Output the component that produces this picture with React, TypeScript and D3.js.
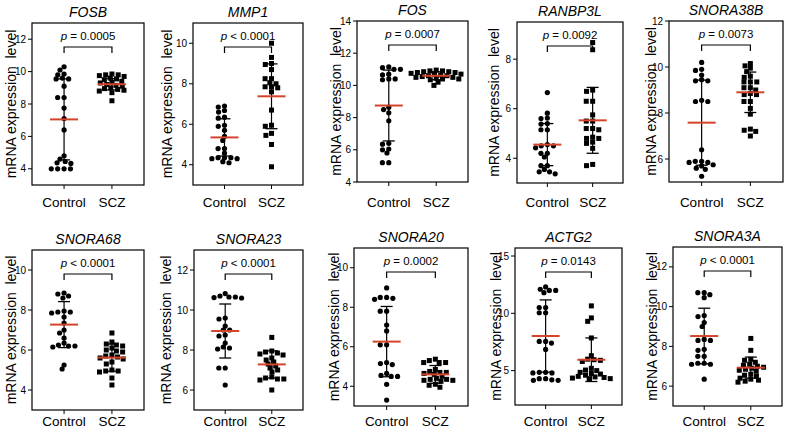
import React from "react";
import * as d3 from "d3";

const genes = ["FOSB", "MMP1", "FOS", "RANBP3L", "SNORA38B", "SNORA68", "SNORA23", "SNORA20", "ACTG2", "SNORA3A"];
const groups = ["Control", "SCZ"];
const pLabels = ["= 0.0005", "< 0.0001", "= 0.0007", "= 0.0092", "= 0.0073", "< 0.0001", "< 0.0001", "= 0.0002", "= 0.0143", "< 0.0001"];
const yDomains = [[3, 13], [3, 11], [4, 14], [3, 9.5], [5, 12], [3, 11], [5, 13], [3, 11], [2, 15.7], [5, 13]];
const yTicks = [[4, 6, 8, 10, 12], [4, 6, 8, 10], [4, 6, 8, 10, 12, 14], [4, 6, 8], [6, 8, 10, 12], [4, 6, 8, 10], [6, 8, 10, 12], [4, 6, 8, 10], [5, 10, 15], [6, 8, 10, 12]];

const controlValues = [
  [10.3, 10.1, 9.8, 9.85, 9.55, 9.6, 9.55, 9.1, 8.4, 8.4, 7.75, 7.1, 6.4, 4.6, 4.8, 4.45, 4.37, 4.33, 4.0, 4.0, 4.0, 4.0],
  [6.9, 6.85, 6.68, 6.6, 6.35, 6.3, 5.95, 5.9, 5.7, 5.4, 5.2, 4.8, 4.8, 4.57, 4.35, 4.3, 4.3, 4.35, 4.35, 4.15, 4.1],
  [11.1, 11.0, 11.0, 11.15, 10.7, 10.65, 10.4, 10.4, 10.35, 8.5, 8.3, 8.65, 7.8, 6.4, 6.35, 6.0, 5.8, 6.05, 5.2, 5.2],
  [6.65, 5.82, 5.62, 5.6, 5.38, 5.4, 5.15, 5.15, 4.55, 4.5, 4.42, 4.5, 4.2, 4.2, 4.05, 3.7, 3.7, 3.55, 3.45, 3.45, 3.37],
  [10.2, 9.9, 9.85, 9.65, 9.45, 9.4, 9.4, 8.5, 8.5, 8.55, 6.4, 5.9, 5.85, 5.9, 5.85, 5.75, 5.7, 5.6, 5.55, 5.25],
  [8.85, 8.8, 8.7, 8.6, 7.95, 7.9, 7.9, 7.85, 7.65, 7.35, 7.0, 6.85, 6.6, 6.35, 6.25, 6.2, 6.2, 6.15, 5.25, 5.05],
  [10.82, 10.7, 10.65, 10.65, 10.6, 10.62, 9.6, 9.55, 9.2, 9.0, 9.0, 8.75, 8.7, 8.35, 8.15, 8.1, 8.05, 7.1, 7.1, 6.25],
  [8.98, 8.5, 8.5, 8.45, 8.4, 7.8, 7.8, 7.1, 6.8, 6.1, 6.1, 5.2, 5.15, 5.1, 4.65, 4.55, 4.5, 4.5, 4.1, 3.3],
  [12.3, 12.0, 12.0, 11.8, 12.1, 10.5, 10.5, 10.05, 10.05, 7.55, 7.55, 7.4, 6.85, 4.85, 4.8, 4.8, 4.85, 4.3, 4.15, 4.15, 4.2, 4.3],
  [10.7, 10.7, 10.6, 10.45, 9.55, 9.5, 9.2, 9.0, 8.3, 8.35, 8.3, 7.85, 7.8, 7.5, 7.5, 7.15, 7.1, 7.1, 7.15, 6.35],
];

const sczValues = [
  [9.85, 9.8, 9.8, 9.75, 9.7, 9.6, 9.55, 9.5, 9.4, 9.35, 9.3, 9.2, 9.15, 9.1, 9.0, 8.95, 8.9, 8.85, 8.8, 8.7, 8.2],
  [10.0, 9.3, 9.0, 8.95, 8.7, 8.25, 8.25, 8.05, 8.0, 7.85, 7.85, 7.8, 7.6, 6.7, 5.95, 5.9, 5.55, 5.45, 5.0, 3.9],
  [10.95, 10.9, 10.9, 10.85, 10.85, 10.8, 10.8, 10.75, 10.7, 10.7, 10.65, 10.6, 10.6, 10.55, 10.5, 10.5, 10.45, 10.4, 10.4, 10.35, 10.2, 10.0],
  [8.67, 8.38, 6.75, 6.7, 6.3, 6.3, 5.75, 5.5, 5.5, 5.2, 5.2, 5.15, 4.85, 4.8, 4.8, 4.65, 4.6, 4.4, 3.75, 3.7],
  [10.15, 10.05, 9.95, 9.8, 9.6, 9.55, 9.35, 9.35, 9.35, 9.1, 9.1, 9.0, 8.8, 8.8, 8.85, 8.5, 8.5, 8.2, 7.95, 7.3, 7.25, 7.2, 7.0],
  [6.85, 6.4, 6.3, 6.25, 6.2, 6.1, 6.0, 5.95, 5.9, 5.75, 5.7, 5.65, 5.6, 5.55, 5.4, 5.3, 5.0, 4.95, 4.95, 4.9, 4.6, 4.25],
  [8.63, 7.95, 7.9, 7.85, 7.8, 7.75, 7.6, 7.5, 7.4, 7.3, 7.2, 7.1, 7.0, 6.9, 6.65, 6.6, 6.55, 6.55, 6.5, 6.0],
  [5.37, 5.3, 5.2, 5.2, 5.2, 4.85, 4.75, 4.7, 4.7, 4.65, 4.6, 4.5, 4.4, 4.35, 4.35, 4.3, 4.3, 4.25, 4.1, 4.05, 3.95],
  [10.65, 9.6, 9.3, 7.85, 6.3, 6.0, 5.95, 5.9, 5.8, 5.2, 5.05, 5.0, 4.85, 4.75, 4.7, 4.6, 4.5, 4.45, 4.4, 4.35, 4.3, 4.3],
  [8.4, 7.8, 7.35, 7.3, 7.2, 7.1, 7.05, 7.0, 6.95, 6.9, 6.85, 6.8, 6.75, 6.6, 6.55, 6.5, 6.4, 6.35, 6.3, 6.25, 6.2],
];

const controlMean = [7.05, 5.35, 8.75, 4.55, 7.58, 7.27, 8.95, 6.26, 8.02, 8.52];
const controlSD = [2.5, 0.92, 2.2, 0.85, 1.85, 1.15, 1.35, 1.78, 3.15, 1.4];
const sczMean = [9.22, 7.38, 10.6, 5.53, 8.9, 5.62, 7.28, 4.6, 5.95, 6.93];
const sczSD = [0.35, 1.6, 0.25, 1.33, 0.88, 0.68, 0.68, 0.45, 1.9, 0.53];

// layout (plot boxes): [x0, x1, y0, y1]
const boxes = [
  [32, 144, 23, 185], [193, 303, 23, 185], [357, 468, 21, 182], [517, 623, 22, 183], [669, 783, 21, 182],
  [32, 144, 250, 410], [194, 303, 250, 410], [354, 468, 248, 406], [515, 622, 248, 405], [673, 782, 247, 406],
];
const yLabelX = [12, 168, 337, 495, 652, 12, 167, 335, 497, 653];
const xLabelY = [207, 426];

const FONT = "'Liberation Sans', Arial, Helvetica, sans-serif";
const RED = "#d5432b";

function swarm(vals: number[], y: (v: number) => number, Dx: number, Dy: number) {
  const pts = vals.map((v, i) => ({ v, i, y: y(v), x: 0 }));
  const order = [...pts].sort((a, b) => a.y - b.y);
  const placed: { x: number; y: number }[] = [];
  for (const p of order) {
    const blocks: [number, number][] = [];
    for (const q of placed) {
      const dy = Math.abs(q.y - p.y);
      if (dy < Dy) {
        const w = Dx * Math.sqrt(1 - (dy / Dy) * (dy / Dy));
        blocks.push([q.x - w, q.x + w]);
      }
    }
    const cands = [0];
    blocks.forEach((b) => cands.push(b[0], b[1]));
    let best = 0;
    let bestAbs = Infinity;
    for (const c of cands) {
      const ok = blocks.every((b) => c <= b[0] + 1e-6 || c >= b[1] - 1e-6);
      if (ok && Math.abs(c) < bestAbs - 1e-6) {
        best = c;
        bestAbs = Math.abs(c);
      }
    }
    p.x = best;
    placed.push({ x: p.x, y: p.y });
  }
  return pts;
}

function Panel({ k }: { k: number }) {
  const [x0, x1, y0, y1] = boxes[k];
  const row = k < 5 ? 0 : 1;
  const y = d3.scaleLinear().domain(yDomains[k]).range([y1, y0]);
  const x = d3.scalePoint<string>().domain(groups).range([x0, x1]).padding(0.67);
  const cx = x("Control")!;
  const sx = x("SCZ")!;
  const cPts = swarm(controlValues[k], y, 6.4, 4.2);
  const sPts = swarm(sczValues[k], y, 6.4, 4.2);
  const stats = [
    { gx: cx, m: controlMean[k], sd: controlSD[k] },
    { gx: sx, m: sczMean[k], sd: sczSD[k] },
  ];
  const by = y0 + 24;
  return (
    <g>
      <text x={(x0 + x1) / 2} y={y0 - 6} textAnchor="middle" fontStyle="italic" fontSize={14} fontFamily={FONT}>
        {genes[k]}
      </text>
      <rect x={x0} y={y0} width={x1 - x0} height={y1 - y0} fill="none" stroke="#000" strokeWidth={1.2} />
      {yTicks[k].map((t) => (
        <g key={t}>
          <line x1={x0 - 4} x2={x0} y1={y(t)} y2={y(t)} stroke="#000" strokeWidth={1} />
          <text x={x0 - 6} y={y(t) + 3.5} textAnchor="end" fontSize={10} fontFamily={FONT}>
            {t}
          </text>
        </g>
      ))}
      {groups.map((g) => (
        <g key={g}>
          <line x1={x(g)!} x2={x(g)!} y1={y1} y2={y1 + 4} stroke="#000" strokeWidth={1} />
          <text x={x(g)!} y={xLabelY[row]} textAnchor="middle" fontSize={13.5} fontFamily={FONT}>
            {g}
          </text>
        </g>
      ))}
      <text
        transform={`translate(${yLabelX[k]},${(y0 + y1) / 2}) rotate(-90)`}
        textAnchor="middle"
        dominantBaseline="middle"
        fontSize={14}
        fontFamily={FONT}
      >
        {"mRNA expression\u00A0 level"}
      </text>
      <path d={`M${cx},${by + 6}V${by}H${sx}V${by + 6}`} fill="none" stroke="#000" strokeWidth={1.2} />
      <text x={(cx + sx) / 2} y={by - 7} textAnchor="middle" fontSize={11.5} fontFamily={FONT}>
        <tspan fontStyle="italic">p</tspan> {pLabels[k]}
      </text>
      {cPts.map((p) => (
        <circle key={"c" + p.i} cx={cx + p.x} cy={p.y} r={2.6} fill="#000" />
      ))}
      {sPts.map((p) => (
        <rect key={"s" + p.i} x={sx + p.x - 2.5} y={p.y - 2.5} width={5} height={5} fill="#000" />
      ))}
      {stats.map((s, i) => (
        <g key={i}>
          <line x1={s.gx} x2={s.gx} y1={y(s.m - s.sd)} y2={y(s.m + s.sd)} stroke="#000" strokeWidth={1.2} />
          <line x1={s.gx - 6} x2={s.gx + 6} y1={y(s.m + s.sd)} y2={y(s.m + s.sd)} stroke="#000" strokeWidth={1.3} />
          <line x1={s.gx - 6} x2={s.gx + 6} y1={y(s.m - s.sd)} y2={y(s.m - s.sd)} stroke="#000" strokeWidth={1.3} />
          <line x1={s.gx - 14} x2={s.gx + 14} y1={y(s.m)} y2={y(s.m)} stroke={RED} strokeWidth={2} />
        </g>
      ))}
    </g>
  );
}

export default function App() {
  return (
    <svg width={789} height={437} style={{ position: "absolute", left: 0, top: 0, background: "#fff" }}>
      <rect width={789} height={437} fill="#fff" />
      {genes.map((g, k) => (
        <Panel key={g} k={k} />
      ))}
    </svg>
  );
}
